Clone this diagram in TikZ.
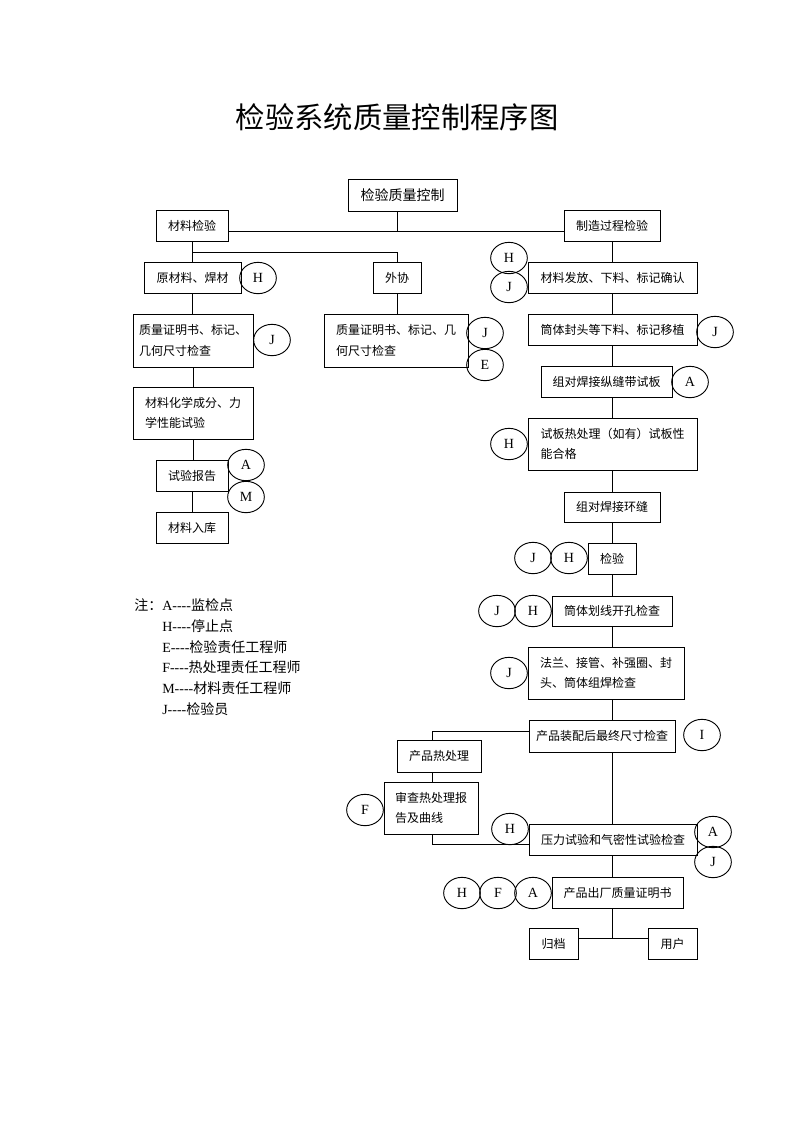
\documentclass[tikz,border=0pt]{standalone}
\usepackage{fontspec}
\setmainfont{Liberation Serif}
\newfontfamily\cjk{Noto Sans CJK SC}
\usetikzlibrary{shapes.geometric}
\newcommand\mybox[7][box]{\node[#1,minimum width={(#5-#3)*0.75pt},minimum height={(#6-#4)*0.75pt}] (#2) at ({(#3+#5)/2},{(#4+#6)/2}) {#7};}
\begin{document}
\begin{tikzpicture}[x=0.75pt,y=-0.75pt,
  box/.style={draw, line width=0.7pt, inner sep=0pt, font=\cjk\fontsize{9}{15.5}\selectfont},
  two/.style={box, align=left},
  bigbox/.style={box, font=\cjk\fontsize{10.5}{12}\selectfont},
  mk/.style={draw, ellipse, line width=0.7pt, minimum width=27.5pt, minimum height=23.5pt, inner sep=0pt, font=\fontsize{10.5}{12}\selectfont},
  ln/.style={line width=0.7pt},
  note/.style={anchor=west, inner sep=0pt, font=\fontsize{10.5}{12}\selectfont}]
\useasboundingbox (0,0) rectangle (793,1122);
\fill[white] (0,0) rectangle (793,1122);

\node[font=\cjk\fontsize{22}{26}\selectfont] (title) at (397,117) {检验系统质量控制程序图};

% boxes
\mybox[bigbox]{ctrl}{348}{179}{457}{211}{检验质量控制}
\mybox{mat}{156}{210}{228}{241}{材料检验}
\mybox{mfg}{564}{210}{660}{241}{制造过程检验}
\mybox{raw}{144}{262}{241}{293}{原材料、焊材}
\mybox{wx}{373}{262}{421}{293}{外协}
\mybox[two]{qc1}{133}{314}{253}{367}{质量证明书、标记、\\几何尺寸检查}
\mybox[two]{qc2}{324}{314}{468}{367}{质量证明书、标记、几\\何尺寸检查}
\mybox[two]{chem}{133}{387}{253}{439}{材料化学成分、力\\学性能试验}
\mybox{rep}{156}{460}{228}{491}{试验报告}
\mybox{stk}{156}{512}{228}{543}{材料入库}
\mybox{iss}{528}{262}{697}{293}{材料发放、下料、标记确认}
\mybox{cut}{528}{314}{697}{345}{筒体封头等下料、标记移植}
\mybox{lw}{541}{366}{672}{397}{组对焊接纵缝带试板}
\mybox[two]{tp}{528}{418}{697}{470}{试板热处理（如有）试板性\\能合格}
\mybox{cw}{564}{492}{660}{522}{组对焊接环缝}
\mybox{insp}{588}{543}{636}{574}{检验}
\mybox{mark}{552}{596}{672}{626}{筒体划线开孔检查}
\mybox[two]{fl}{528}{647}{684}{699}{法兰、接管、补强圈、封\\头、筒体组焊检查}
\mybox{asm}{529}{720}{675}{752}{产品装配后最终尺寸检查}
\mybox{pht}{397}{740}{481}{772}{产品热处理}
\mybox[two]{rev}{384}{782}{478}{834}{审查热处理报\\告及曲线}
\mybox{pr}{529}{824}{697}{855}{压力试验和气密性试验检查}
\mybox{cert}{552}{877}{683}{908}{产品出厂质量证明书}
\mybox{arc}{529}{928}{578}{959}{归档}
\mybox{usr}{648}{928}{697}{959}{用户}

% marks
\node[mk] (m1) at (258,278) {H};
\node[mk] (m2) at (272,340) {J};
\node[mk] (m3) at (485,333) {J};
\node[mk] (m4) at (485,365) {E};
\node[mk] (m5) at (246,465) {A};
\node[mk] (m6) at (246,497) {M};
\node[mk] (m7) at (509,258) {H};
\node[mk] (m8) at (509,287) {J};
\node[mk] (m9) at (715,332) {J};
\node[mk] (m10) at (690,382) {A};
\node[mk] (m11) at (509,444) {H};
\node[mk] (m12) at (533,558) {J};
\node[mk] (m13) at (569,558) {H};
\node[mk] (m14) at (497,611) {J};
\node[mk] (m15) at (533,611) {H};
\node[mk] (m16) at (509,673) {J};
\node[mk] (m17) at (702,735) {I};
\node[mk] (m18) at (365,810) {F};
\node[mk] (m19) at (510,829) {H};
\node[mk] (m20) at (713,832) {A};
\node[mk] (m21) at (713,862) {J};
\node[mk] (m22) at (462,893) {H};
\node[mk] (m23) at (498,893) {F};
\node[mk] (m24) at (533,893) {A};

% connectors
\coordinate (hl) at (0,231);
\coordinate (bl) at (0,252);
\coordinate (cx) at (397,0);
\coordinate (vx) at (612,0);
\coordinate (lx) at (432,0);
\coordinate (ay) at (0,731);
\coordinate (py) at (0,844);
\coordinate (by) at (0,938);
\draw[ln] (mat.east |- hl) -- (mfg.west |- hl);
\draw[ln] (ctrl.south -| cx) -- (cx |- hl);
\draw[ln] (mat.south) -- (mat.south |- bl) -| (wx.north);
\draw[ln] (mat.south |- bl) -- (mat.south |- raw.north);
\draw[ln] (raw.south) -- (raw.south |- qc1.north);
\draw[ln] (qc1.south) -- (qc1.south |- chem.north);
\draw[ln] (chem.south) -- (chem.south |- rep.north);
\draw[ln] (rep.south) -- (rep.south |- stk.north);
\draw[ln] (wx.south) -- (wx.south |- qc2.north);
\foreach \a/\b in {mfg/iss, iss/cut, cut/lw, lw/tp, tp/cw, cw/insp, insp/mark, mark/fl, fl/asm, asm/pr, pr/cert}
  \draw[ln] (\a.south -| vx) -- (\b.north -| vx);
\draw[ln] (cert.south -| vx) -- (vx |- by);
\draw[ln] (arc.east |- by) -- (usr.west |- by);
\draw[ln] (asm.west |- ay) -| (pht.north -| lx);
\draw[ln] (pht.south -| lx) -- (rev.north -| lx);
\draw[ln] (rev.south -| lx) |- (pr.west |- py);

% notes
\node[note, font=\cjk\fontsize{10.5}{12}\selectfont] (n0) at (134,605) {注：};
\node[note] (n1) at (162,605) {A-{}-{}-{}-{\cjk 监检点}};
\node[note] (n2) at (162,626) {H-{}-{}-{}-{\cjk 停止点}};
\node[note] (n3) at (162,647) {E-{}-{}-{}-{\cjk 检验责任工程师}};
\node[note] (n4) at (162,667) {F-{}-{}-{}-{\cjk 热处理责任工程师}};
\node[note] (n5) at (162,688) {M-{}-{}-{}-{\cjk 材料责任工程师}};
\node[note] (n6) at (162,709) {J-{}-{}-{}-{\cjk 检验员}};
\end{tikzpicture}
\end{document}
